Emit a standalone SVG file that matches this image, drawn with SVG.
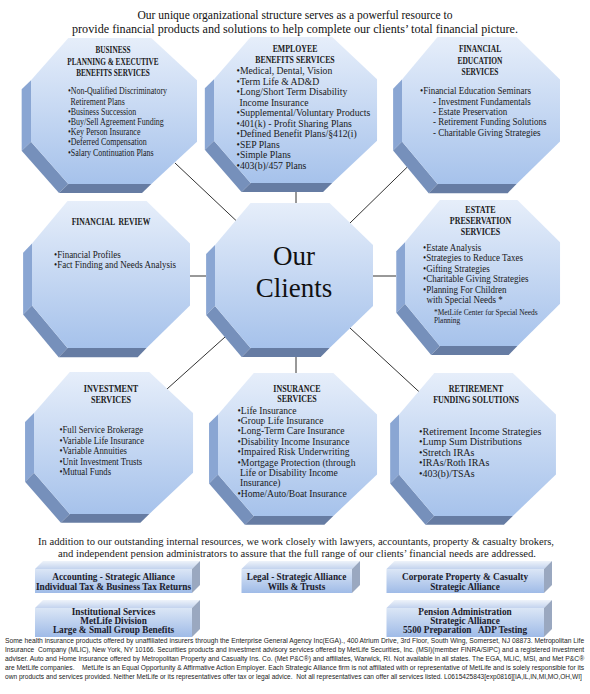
<svg xmlns="http://www.w3.org/2000/svg" width="590" height="694" viewBox="0 0 590 694">
<style>
.it{font-family:"Liberation Serif",serif;font-size:10px;fill:#1a1a1a}
.tt{font-family:"Liberation Serif",serif;font-size:10.5px;font-weight:bold;fill:#1a1a1a;text-anchor:middle}
.fn{font-family:"Liberation Serif",serif;font-size:8.2px;fill:#1a1a1a}
.cl{font-family:"Liberation Serif",serif;font-size:27px;text-anchor:middle;fill:#111}
.hd{font-family:"Liberation Serif",serif;font-size:11.5px;text-anchor:middle;fill:#111}
.pa{font-family:"Liberation Serif",serif;font-size:10.5px;text-anchor:middle;fill:#1a1a1a}
.bx{font-family:"Liberation Serif",serif;font-size:9.5px;font-weight:bold;text-anchor:middle;fill:#1b1b2b}
.ft{font-family:"Liberation Sans",Arial,sans-serif;font-size:7.3px;fill:#222;white-space:pre}
.cn line{stroke:#333;stroke-width:1}
.fl{fill:#8aa6d3}.fd{fill:#7690bb}.fb{fill:#667ca3}
.bf{fill:url(#gb)}.bt{fill:url(#gt)}.br{fill:#9aa8c0}
</style>
<defs>
<linearGradient id="gf" x1="0" y1="0" x2="0" y2="1"><stop offset="0" stop-color="#e6eefa"/><stop offset="1" stop-color="#a6c2eb"/></linearGradient>
<linearGradient id="gb" x1="0" y1="0" x2="0" y2="1"><stop offset="0" stop-color="#dbe6f6"/><stop offset="1" stop-color="#9fbbe7"/></linearGradient>
<linearGradient id="gt" x1="0" y1="1" x2="0" y2="0"><stop offset="0" stop-color="#c3d3ee"/><stop offset="1" stop-color="#eef3fa"/></linearGradient>
<g id="oct">
<polygon class="fl" points="0,42 0,103 -9,112 -9,51"/>
<polygon class="fd" points="0,103 36,145 27,154 -9,112"/>
<polygon class="fb" points="36,145 116,145 107,154 27,154"/>
<polygon fill="url(#gf)" points="36,0 116,0 160,42 160,103 116,145 36,145 0,103 0,42"/>
</g>
</defs>
<rect width="590" height="694" fill="#fff"/>

<g id="header">
<text class="hd" x="295" y="18.5" textLength="315" lengthAdjust="spacingAndGlyphs">Our unique organizational structure serves as a powerful resource to</text>
<text class="hd" x="295" y="33" textLength="446" lengthAdjust="spacingAndGlyphs">provide financial products and solutions to help complete our clients’ total financial  picture.</text>
</g>

<g id="connectors" class="cn">
<line x1="296" y1="192" x2="296" y2="203"/>
<line x1="296" y1="357" x2="296" y2="373"/>
<line x1="190" y1="276" x2="206" y2="276"/>
<line x1="373" y1="276" x2="396" y2="276"/>
<line x1="175" y1="163" x2="236" y2="220.5"/>
<line x1="350" y1="223" x2="407" y2="167.3"/>
<line x1="225" y1="337" x2="167" y2="389"/>
<line x1="350" y1="328" x2="419" y2="391.7"/>
</g>

<g id="business-planning">
<use href="#oct" transform="translate(31,38) scale(1.0375,1.007)"/>
<g transform="translate(113,0) scale(.69,1)">
<text class="tt" y="53.5">BUSINESS</text>
<text class="tt" y="65">PLANNING &amp; EXECUTIVE</text>
<text class="tt" y="76.5">BENEFITS SERVICES</text>
</g>
<g transform="translate(68,0) scale(.795,1)">
<text class="it" y="94.5">•Non-Qualified Discriminatory</text>
<text class="it" x="3" y="104.7">Retirement Plans</text>
<text class="it" y="114.9">•Business Succession</text>
<text class="it" y="125.1">•Buy/Sell Agreement Funding</text>
<text class="it" y="135.3">•Key Person Insurance</text>
<text class="it" y="145.5">•Deferred Compensation</text>
<text class="it" y="155.7">•Salary Continuation Plans</text>
</g>
</g>

<g id="employee-benefits">
<use href="#oct" transform="translate(214,37) scale(1.019,1.007)"/>
<g transform="translate(295,0) scale(.745,1)">
<text class="tt" y="52">EMPLOYEE</text>
<text class="tt" y="63">BENEFITS SERVICES</text>
</g>
<g transform="translate(236.5,0) scale(.97,1)">
<text class="it" y="74.5">•Medical, Dental, Vision</text>
<text class="it" y="85">•Term Life &amp; AD&amp;D</text>
<text class="it" y="95.4">•Long/Short Term Disability</text>
<text class="it" x="3" y="105.9">Income Insurance</text>
<text class="it" y="116.3">•Supplemental/Voluntary Products</text>
<text class="it" y="126.8">•401(k) - Profit Sharing Plans</text>
<text class="it" y="137.2">•Defined Benefit Plans/§412(i)</text>
<text class="it" y="147.7">•SEP Plans</text>
<text class="it" y="158.1">•Simple Plans</text>
<text class="it" y="168.6">•403(b)/457 Plans</text>
</g>
</g>

<g id="financial-education">
<use href="#oct" transform="translate(402,37) scale(0.9875,1.014)"/>
<g transform="translate(480,0) scale(.71,1)">
<text class="tt" y="52.5">FINANCIAL</text>
<text class="tt" y="64">EDUCATION</text>
<text class="tt" y="75.5">SERVICES</text>
</g>
<g transform="translate(420,0) scale(.9,1)">
<text class="it" y="94.5">•Financial Education Seminars</text>
<text class="it" x="14.4" y="104.8">- Investment Fundamentals</text>
<text class="it" x="14.4" y="115.1">- Estate Preservation</text>
<text class="it" x="14.4" y="125.4">- Retirement Funding Solutions</text>
<text class="it" x="14.4" y="135.7">- Charitable Giving Strategies</text>
</g>
</g>

<g id="financial-review">
<use href="#oct" transform="translate(32,201) scale(0.9875,1.014)"/>
<g transform="translate(111,0) scale(.73,1)">
<text class="tt" y="225">FINANCIAL &#160;REVIEW</text>
</g>
<g transform="translate(54,0) scale(.9,1)">
<text class="it" y="258.5">•Financial Profiles</text>
<text class="it" y="268.5">•Fact Finding and Needs Analysis</text>
</g>
</g>

<g id="our-clients">
<use href="#oct" transform="translate(215,203) scale(0.9875,1)"/>
<text class="cl" x="294" y="265">Our</text>
<text class="cl" x="294" y="297">Clients</text>
</g>

<g id="estate-preservation">
<use href="#oct" transform="translate(405,200) scale(0.969,1.007)"/>
<g transform="translate(480.5,0) scale(.76,1)">
<text class="tt" y="213.5">ESTATE</text>
<text class="tt" y="224.5">PRESERVATION</text>
<text class="tt" y="235.5">SERVICES</text>
</g>
<g transform="translate(423,0) scale(.9,1)">
<text class="it" y="251">•Estate Analysis</text>
<text class="it" y="261.5">•Strategies to Reduce Taxes</text>
<text class="it" y="272">•Gifting Strategies</text>
<text class="it" y="282.5">•Charitable Giving Strategies</text>
<text class="it" y="293">•Planning For Children</text>
<text class="it" x="4" y="303.5">with Special Needs *</text>
<text class="fn" x="12.2" y="315">*MetLife Center for Special Needs</text>
<text class="fn" x="12.2" y="323.5">Planning</text>
</g>
</g>

<g id="investment-services">
<use href="#oct" transform="translate(34,372) scale(0.994,0.979)"/>
<g transform="translate(111,0) scale(.77,1)">
<text class="tt" y="392">INVESTMENT</text>
<text class="tt" y="403.5">SERVICES</text>
</g>
<g transform="translate(59.5,0) scale(.87,1)">
<text class="it" y="433">•Full Service Brokerage</text>
<text class="it" y="443.6">•Variable Life Insurance</text>
<text class="it" y="454.2">•Variable Annuities</text>
<text class="it" y="464.8">•Unit Investment Trusts</text>
<text class="it" y="475.4">•Mutual Funds</text>
</g>
</g>

<g id="insurance-services">
<use href="#oct" transform="translate(218,373) scale(0.994,0.986)"/>
<g transform="translate(297,0) scale(.76,1)">
<text class="tt" y="392">INSURANCE</text>
<text class="tt" y="402.5">SERVICES</text>
</g>
<g transform="translate(237.5,0) scale(.96,1)">
<text class="it" y="413.7">•Life Insurance</text>
<text class="it" y="424.1">•Group Life Insurance</text>
<text class="it" y="434.5">•Long-Term Care Insurance</text>
<text class="it" y="444.9">•Disability Income Insurance</text>
<text class="it" y="455.3">•Impaired Risk Underwriting</text>
<text class="it" y="465.7">•Mortgage Protection (through</text>
<text class="it" x="2.6" y="476.1">Life or Disability  Income</text>
<text class="it" x="2.6" y="486.5">Insurance)</text>
<text class="it" y="496.9">•Home/Auto/Boat Insurance</text>
</g>
</g>

<g id="retirement-funding">
<use href="#oct" transform="translate(399,373) scale(0.981,0.986)"/>
<g transform="translate(476,0) scale(.76,1)">
<text class="tt" y="392">RETIREMENT</text>
<text class="tt" y="403">FUNDING SOLUTIONS</text>
</g>
<g transform="translate(419,0) scale(1,1)">
<text class="it" y="434.5">•Retirement Income Strategies</text>
<text class="it" y="445">•Lump Sum Distributions</text>
<text class="it" y="455.5">•Stretch  IRAs</text>
<text class="it" y="466">•IRAs/Roth IRAs</text>
<text class="it" y="476.5">•403(b)/TSAs</text>
</g>
</g>

<g id="alliances-intro">
<text class="pa" x="296" y="545" textLength="516" lengthAdjust="spacingAndGlyphs">In addition to our outstanding internal resources, we work closely with lawyers, accountants, property &amp; casualty brokers,</text>
<text class="pa" x="297" y="557" textLength="478" lengthAdjust="spacingAndGlyphs">and independent pension administrators to assure that the full range of our clients’ financial needs are addressed.</text>
</g>

<g id="accounting">
<rect class="bf" x="35" y="569" width="157" height="24"/>
<polygon class="bt" points="35,569 192,569 200,561 43,561"/>
<polygon class="br" points="192,569 200,561 200,585 192,593"/>
<g transform="translate(113.5,0) scale(.975,1)">
<text class="bx" y="580">Accounting - Strategic Alliance</text>
<text class="bx" y="590.5">Individual Tax &amp; Business Tax Returns</text>
</g>
</g>

<g id="legal">
<rect class="bf" x="241.5" y="569" width="110.5" height="24"/>
<polygon class="bt" points="241.5,569 352,569 360,561 249.5,561"/>
<polygon class="br" points="352,569 360,561 360,585 352,593"/>
<g transform="translate(296.5,0) scale(.975,1)">
<text class="bx" y="580">Legal - Strategic Alliance</text>
<text class="bx" y="590.5">Wills &amp; Trusts</text>
</g>
</g>

<g id="corporate-pc">
<rect class="bf" x="386.5" y="569" width="157.5" height="24"/>
<polygon class="bt" points="386.5,569 544,569 552,561 394.5,561"/>
<polygon class="br" points="544,569 552,561 552,585 544,593"/>
<g transform="translate(465,0) scale(.975,1)">
<text class="bx" y="580">Corporate Property &amp; Casualty</text>
<text class="bx" y="590.5">Strategic Alliance</text>
</g>
</g>

<g id="institutional">
<rect class="bf" x="35" y="608" width="157" height="29"/>
<polygon class="bt" points="35,608 192,608 200,600 43,600"/>
<polygon class="br" points="192,608 200,600 200,629 192,637"/>
<g transform="translate(113.5,0) scale(.975,1)">
<text class="bx" y="615.5">Institutional Services</text>
<text class="bx" y="624.5">MetLife Division</text>
<text class="bx" y="633.5">Large &amp; Small Group Benefits</text>
</g>
</g>

<g id="pension">
<rect class="bf" x="386.5" y="608" width="157.5" height="29"/>
<polygon class="bt" points="386.5,608 544,608 552,600 394.5,600"/>
<polygon class="br" points="544,608 552,600 552,629 544,637"/>
<g transform="translate(465,0) scale(.975,1)">
<text class="bx" y="615.5">Pension Administration</text>
<text class="bx" y="624.5">Strategic Alliance</text>
<text class="bx" y="633.5" style="white-space:pre">5500 Preparation   ADP Testing</text>
</g>
</g>

<g id="disclaimer" transform="translate(5,0) scale(.8,1)">
<text class="ft" y="643" textLength="724" lengthAdjust="spacingAndGlyphs">Some health insurance products offered by unaffiliated insurers through the Enterprise General Agency Inc(EGA)., 400 Atrium Drive, 3rd Floor, South Wing, Somerset, NJ 08873. Metropolitan Life</text>
<text class="ft" y="652" textLength="724" lengthAdjust="spacingAndGlyphs">Insurance  Company (MLIC), New York, NY 10166. Securities products and investment advisory services offered by MetLife Securities, Inc. (MSI)(member FINRA/SIPC) and a registered investment</text>
<text class="ft" y="661" textLength="724" lengthAdjust="spacingAndGlyphs">adviser. Auto and Home Insurance offered by Metropolitan Property and Casualty Ins. Co. (Met P&amp;C®) and affiliates, Warwick, RI. Not available in all states. The EGA, MLIC, MSI, and Met P&amp;C®</text>
<text class="ft" y="670" textLength="724" lengthAdjust="spacingAndGlyphs">are MetLife companies.    MetLife is an Equal Opportunity &amp; Affirmative Action Employer. Each Strategic Alliance firm is not affiliated with or representative of MetLife and is solely responsible for its</text>
<text class="ft" y="679" textLength="721" lengthAdjust="spacingAndGlyphs">own products and services provided. Neither MetLife or its representatives offer tax or legal advice.  Not all representatives can offer all services listed. L0615425843[exp0816][IA,IL,IN,MI,MO,OH,WI]</text>
</g>
</svg>
